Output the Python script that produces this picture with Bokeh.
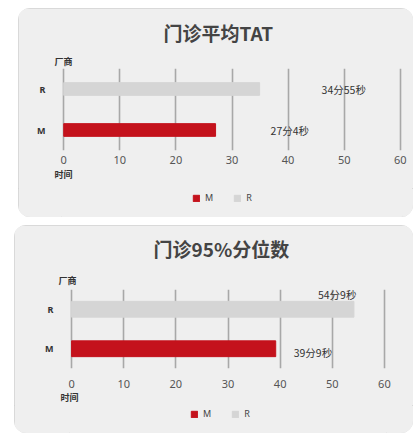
from bokeh.plotting import figure
from bokeh.models import ColumnDataSource, Range1d, FactorRange, FixedTicker, Title, Legend, LegendItem
from bokeh.layouts import column
from bokeh.embed import file_html
from bokeh.resources import INLINE
from bokeh.core.properties import value

# ---- data ----
categories = ["M", "R"]
x_ticks = [0, 10, 20, 30, 40, 50, 60]
title_avg = "门诊平均TAT"
title_p95 = "门诊95%分位数"
avg_minutes = [27.07, 34.92]          # 27分4秒, 34分55秒
avg_labels = ["27分4秒", "34分55秒"]
p95_minutes = [39.15, 54.15]          # 39分9秒, 54分9秒
p95_labels = ["39分9秒", "54分9秒"]
y_axis_title = "厂商"
x_axis_title = "时间"

# ---- style ----
bar_colors = ["#c4121c", "#d5d5d5"]
PANEL_BG = "#efefef"
GRID = "#a8a8a8"
FONT = "Noto Sans CJK SC"


def make_panel(title_text, vals, lbls, w, h_main, h_leg, bl, br, bt, bb, bar_h,
               lab_dx, lab_dy, title_off, ytitle_off, ytitle_standoff, xtitle_off,
               tick_standoff, xtitle_standoff, legend_xy, margin):
    src = ColumnDataSource(dict(cat=categories, v=vals, lbl=lbls,
                                color=bar_colors, dx=lab_dx, dy=lab_dy))
    p = figure(width=w, height=h_main, y_range=FactorRange(*categories),
               x_range=Range1d(-0.4, 60.4), output_backend="svg",
               toolbar_location=None, min_border_left=bl, min_border_right=br,
               min_border_top=bt, min_border_bottom=bb)
    p.background_fill_color = PANEL_BG
    p.border_fill_color = PANEL_BG
    p.outline_line_color = None

    p.ygrid.grid_line_color = None
    p.xgrid.ticker = FixedTicker(ticks=x_ticks)
    p.xgrid.grid_line_color = GRID
    p.xgrid.grid_line_width = 1.6

    p.hbar(y="cat", left=0, right="v", height=bar_h, color="color", source=src)

    p.text(x="v", y="cat", text="lbl", x_offset="dx", y_offset="dy", source=src,
           text_font=value(FONT), text_font_size="10.5px", text_color="#333333",
           text_baseline="middle", text_align="left")

    xa = p.xaxis[0]
    xa.ticker = FixedTicker(ticks=x_ticks)
    xa.axis_line_color = None
    xa.major_tick_line_color = None
    xa.minor_tick_line_color = None
    xa.major_label_standoff = tick_standoff
    xa.major_label_text_font = "Noto Sans"
    xa.major_label_text_font_size = "11px"
    xa.major_label_text_color = "#555555"

    ya = p.yaxis[0]
    ya.axis_line_color = None
    ya.major_tick_line_color = None
    ya.minor_tick_line_color = None
    ya.major_tick_out = 0
    ya.major_label_standoff = 16
    ya.major_label_text_font = "Noto Sans"
    ya.major_label_text_font_size = "9px"
    ya.major_label_text_font_style = "bold"
    ya.major_label_text_color = "#333333"

    p.add_layout(Title(text=y_axis_title, align="left", offset=ytitle_off,
                       standoff=ytitle_standoff, text_font=FONT, text_font_size="9px",
                       text_font_style="bold", text_color="#333333"), "above")
    p.add_layout(Title(text=title_text, align="left", offset=title_off, standoff=14,
                       text_font=FONT, text_font_size="19px", text_font_style="bold",
                       text_color="#444444"), "above")
    p.add_layout(Title(text=x_axis_title, align="left", offset=xtitle_off,
                       standoff=xtitle_standoff, text_font=FONT, text_font_size="9px",
                       text_font_style="bold", text_color="#333333"), "below")

    # legend strip (separate small figure, legend glyphs from hidden bars)
    q = figure(width=w, height=h_leg, y_range=FactorRange(*categories),
               x_range=Range1d(-0.4, 60.4), output_backend="svg",
               toolbar_location=None, x_axis_location=None, y_axis_location=None,
               min_border_left=bl, min_border_right=br, min_border_top=0,
               min_border_bottom=0)
    q.background_fill_color = PANEL_BG
    q.border_fill_color = PANEL_BG
    q.outline_line_color = None
    q.grid.visible = False
    r = q.hbar(y="cat", left=0, right="v", height=bar_h, color="color", source=src,
               visible=False)
    items = [LegendItem(label=categories[i], renderers=[r], index=i)
             for i in range(len(categories))]
    leg = Legend(items=items, orientation="horizontal", location=legend_xy,
                 background_fill_alpha=0, border_line_color=None, padding=0,
                 margin=0, spacing=20, glyph_width=8, glyph_height=8,
                 label_standoff=5, label_height=8, label_width=6,
                 label_text_font="Noto Sans",
                 label_text_font_size="9px", label_text_color="#444444",
                 label_text_baseline="middle")
    q.add_layout(leg, "center")

    box = column(p, q, spacing=0, margin=margin,
                 styles={"background-color": PANEL_BG, "border-radius": "12px",
                         "overflow": "hidden", "outline": "1px solid #d2d2d2",
                         "outline-offset": "-1px"})
    return box


panel1 = make_panel(title_avg, avg_minutes, avg_labels, 395, 180, 29, 43, 11, 60, 38, 0.31,
                    [55, 62], [0, 0], 102, -7, 1, -7, -1, -2, (131, 13), (8, 0, 0, 18))
panel2 = make_panel(title_p95, p95_minutes, p95_labels, 399, 180, 28, 55, 27, 60, 37, 0.4,
                    [18, -36], [4, -15], 84, -11, 6, -9, 5, -3, (121, 13), (8, 0, 0, 14))

open("out.html", "w").write(file_html([panel1, panel2], INLINE))
